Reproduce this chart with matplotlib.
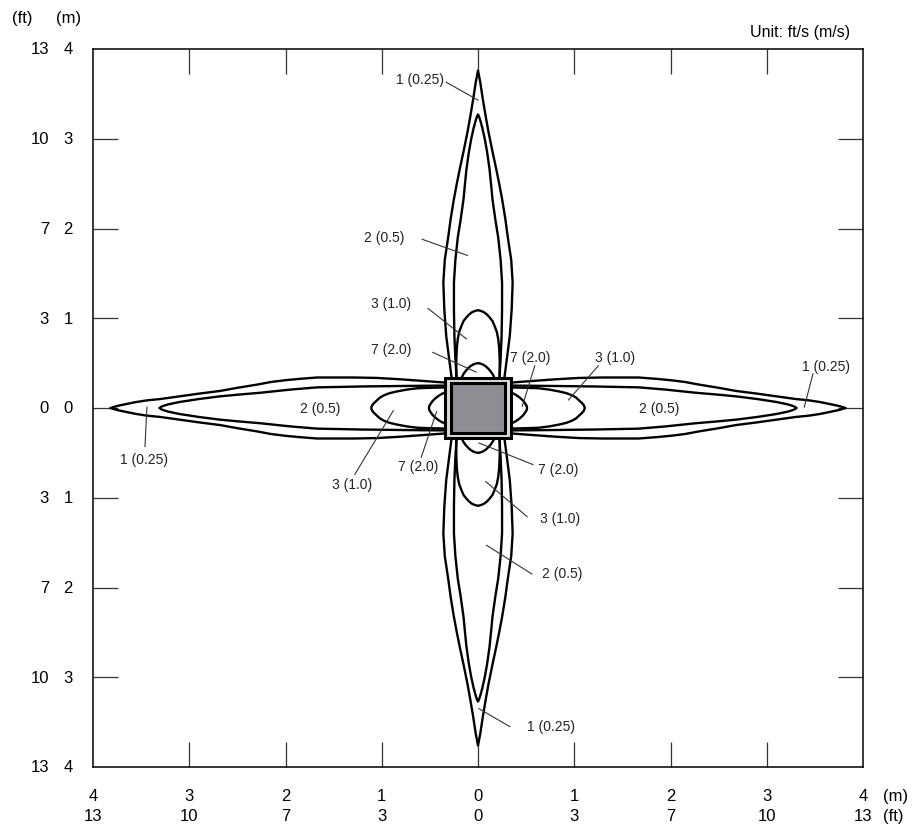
import matplotlib.pyplot as plt
from matplotlib.patches import Rectangle
from matplotlib.transforms import blended_transform_factory

plt.rcParams['font.family'] = ['Liberation Sans', 'DejaVu Sans']

# tick labels: metres and feet
tick_pos = [-4, -3, -2, -1, 0, 1, 2, 3, 4]
m_labels = ['4', '3', '2', '1', '0', '1', '2', '3', '4']
ft_labels = ['13', '10', '7', '3', '0', '3', '7', '10', '13']

# lobe outlines: distance from centre (m), half width (m)
# vertical lobes (up and down)
v1_d = [0.30, 0.55, 0.80, 1.10, 1.40, 1.65, 1.90, 2.10, 2.33, 2.50, 2.66, 2.86, 3.07, 3.25, 3.44, 3.62, 3.76]
v1_w = [0.27, 0.30, 0.33, 0.35, 0.36, 0.345, 0.31, 0.285, 0.25, 0.22, 0.19, 0.15, 0.11, 0.08, 0.05, 0.025, 0.0]
v2_d = [0.30, 0.55, 0.80, 1.10, 1.40, 1.65, 1.90, 2.10, 2.33, 2.50, 2.66, 2.85, 3.00, 3.12, 3.20, 3.25, 3.27]
v2_w = [0.22, 0.235, 0.245, 0.25, 0.25, 0.235, 0.21, 0.18, 0.15, 0.135, 0.12, 0.095, 0.07, 0.045, 0.025, 0.01, 0.0]
v3_d = [0.30, 0.45, 0.55, 0.67, 0.77, 0.85, 0.92, 0.97, 1.01, 1.04, 1.065, 1.08, 1.09]
v3_w = [0.225, 0.226, 0.225, 0.22, 0.21, 0.195, 0.17, 0.15, 0.12, 0.095, 0.065, 0.035, 0.0]
v7_d = [0.30, 0.35, 0.38, 0.41, 0.44, 0.465, 0.485, 0.495, 0.50]
v7_w = [0.17, 0.165, 0.15, 0.13, 0.105, 0.08, 0.05, 0.025, 0.0]
# horizontal lobes (left and right)
h1_d = [0.30, 0.55, 0.81, 1.05, 1.30, 1.67, 1.85, 2.00, 2.15, 2.30, 2.50, 2.68, 2.90, 3.10, 3.30, 3.44, 3.56, 3.65, 3.74, 3.82]
h1_w = [0.28, 0.30, 0.32, 0.335, 0.34, 0.34, 0.325, 0.31, 0.29, 0.26, 0.225, 0.19, 0.16, 0.13, 0.10, 0.085, 0.065, 0.045, 0.025, 0.0]
h2_d = [0.30, 0.55, 0.81, 1.20, 1.67, 1.95, 2.26, 2.48, 2.68, 2.90, 3.10, 3.22, 3.28, 3.31]
h2_w = [0.25, 0.248, 0.245, 0.24, 0.23, 0.205, 0.17, 0.15, 0.13, 0.10, 0.067, 0.04, 0.02, 0.0]
h3_d = [0.30, 0.50, 0.63, 0.74, 0.84, 0.92, 0.98, 1.02, 1.05, 1.08, 1.10, 1.11]
h3_w = [0.23, 0.225, 0.22, 0.205, 0.185, 0.165, 0.14, 0.115, 0.085, 0.055, 0.03, 0.0]
h7_d = [0.30, 0.35, 0.38, 0.41, 0.44, 0.47, 0.49, 0.505, 0.51]
h7_w = [0.18, 0.17, 0.155, 0.135, 0.11, 0.08, 0.05, 0.025, 0.0]

v_lobes = [(v1_d, v1_w), (v2_d, v2_w), (v3_d, v3_w), (v7_d, v7_w)]
h_lobes = [(h1_d, h1_w), (h2_d, h2_w), (h3_d, h3_w), (h7_d, h7_w)]

# labels: text, text pos, leader start, leader end (None = no leader)
notes = [
    ('1 (0.25)', (-0.60, 3.67), (-0.33, 3.63), (0.00, 3.43)),
    ('2 (0.5)', (-0.97, 1.91), (-0.58, 1.88), (-0.11, 1.70)),
    ('3 (1.0)', (-0.90, 1.17), (-0.52, 1.11), (-0.12, 0.77)),
    ('7 (2.0)', (-0.90, 0.66), (-0.47, 0.62), (-0.02, 0.40)),
    ('7 (2.0)', (0.54, 0.57), (0.59, 0.47), (0.46, 0.02)),
    ('3 (1.0)', (1.42, 0.57), (1.25, 0.47), (0.94, 0.09)),
    ('1 (0.25)', (3.62, 0.47), (3.48, 0.38), (3.39, 0.01)),
    ('2 (0.5)', (1.88, 0.0), None, None),
    ('2 (0.5)', (-1.64, 0.0), None, None),
    ('1 (0.25)', (-3.47, -0.57), (-3.44, 0.01), (-3.46, -0.43)),
    ('3 (1.0)', (-1.31, -0.85), (-1.28, -0.74), (-0.88, -0.03)),
    ('7 (2.0)', (-0.62, -0.65), (-0.59, -0.55), (-0.43, -0.04)),
    ('7 (2.0)', (0.83, -0.68), (0.01, -0.39), (0.57, -0.63)),
    ('3 (1.0)', (0.85, -1.23), (0.08, -0.82), (0.51, -1.21)),
    ('2 (0.5)', (0.87, -1.84), (0.09, -1.53), (0.56, -1.85)),
    ('1 (0.25)', (0.76, -3.54), (0.01, -3.35), (0.33, -3.55)),
]

fig = plt.figure(figsize=(9.2, 8.29), dpi=100)
ax = fig.add_axes([93 / 920, 1 - 768 / 829, 770 / 920, 718 / 829])
ax.set_xlim(-4, 4)
ax.set_ylim(-4, 4)

lw_lobe = 1.7
for d, w in v_lobes:
    xs = w + [-v for v in w[::-1]]
    ys = d + d[::-1]
    ax.plot(xs, ys, color='black', lw=lw_lobe, solid_joinstyle='round')
    ax.plot(xs, [-v for v in ys], color='black', lw=lw_lobe, solid_joinstyle='round')
for d, w in h_lobes:
    xs = d + d[::-1]
    ys = w + [-v for v in w[::-1]]
    ax.plot(xs, ys, color='black', lw=lw_lobe, solid_joinstyle='round')
    ax.plot([-v for v in xs], ys, color='black', lw=lw_lobe, solid_joinstyle='round')

# outlet box in the centre
ax.add_patch(Rectangle((-0.34, -0.33), 0.68, 0.66, facecolor='#dcdcdc',
                       edgecolor='black', lw=2.2, zorder=5))
ax.add_patch(Rectangle((-0.285, -0.275), 0.57, 0.55, facecolor='#8e8d93',
                       edgecolor='black', lw=2.2, zorder=6))

for txt, tp, p0, p1 in notes:
    ax.text(tp[0], tp[1], txt, ha='center', va='center', fontsize=10, color='#222222')
    if p0 is not None:
        ax.plot([p0[0], p1[0]], [p0[1], p1[1]], color='#333333', lw=0.8)

# axes frame and inward ticks on all sides
for s in ax.spines.values():
    s.set_linewidth(1.1)
    s.set_color('black')
ax.set_xticks(tick_pos[1:-1])
ax.set_yticks(tick_pos[1:-1])
ax.tick_params(direction='in', length=18, width=0.9, color='#333333',
               top=True, right=True, labelbottom=False, labelleft=False)

# two-row tick labels
tx = blended_transform_factory(ax.transData, fig.transFigure)
ty = blended_transform_factory(fig.transFigure, ax.transData)
fs = 12
for p, m, f in zip(tick_pos, m_labels, ft_labels):
    fig.text(p, 1 - 797 / 829, m, transform=tx, ha='center', va='center', fontsize=fs)
    fig.text(p, 1 - 817 / 829, f, transform=tx, ha='center', va='center', fontsize=fs)
    fig.text(49 / 920, p, f, transform=ty, ha='right', va='center', fontsize=fs)
    fig.text(68 / 920, p, m, transform=ty, ha='center', va='center', fontsize=fs)

fig.text(896 / 920, 1 - 797 / 829, '(m)', ha='center', va='center', fontsize=fs)
fig.text(893 / 920, 1 - 817 / 829, '(ft)', ha='center', va='center', fontsize=fs)
fig.text(22 / 920, 1 - 19 / 829, '(ft)', ha='center', va='center', fontsize=fs)
fig.text(69 / 920, 1 - 19 / 829, '(m)', ha='center', va='center', fontsize=fs)
fig.text(850 / 920, 1 - 32 / 829, 'Unit: ft/s (m/s)', ha='right', va='center', fontsize=11.5)

fig.savefig('out.png', dpi=100)
